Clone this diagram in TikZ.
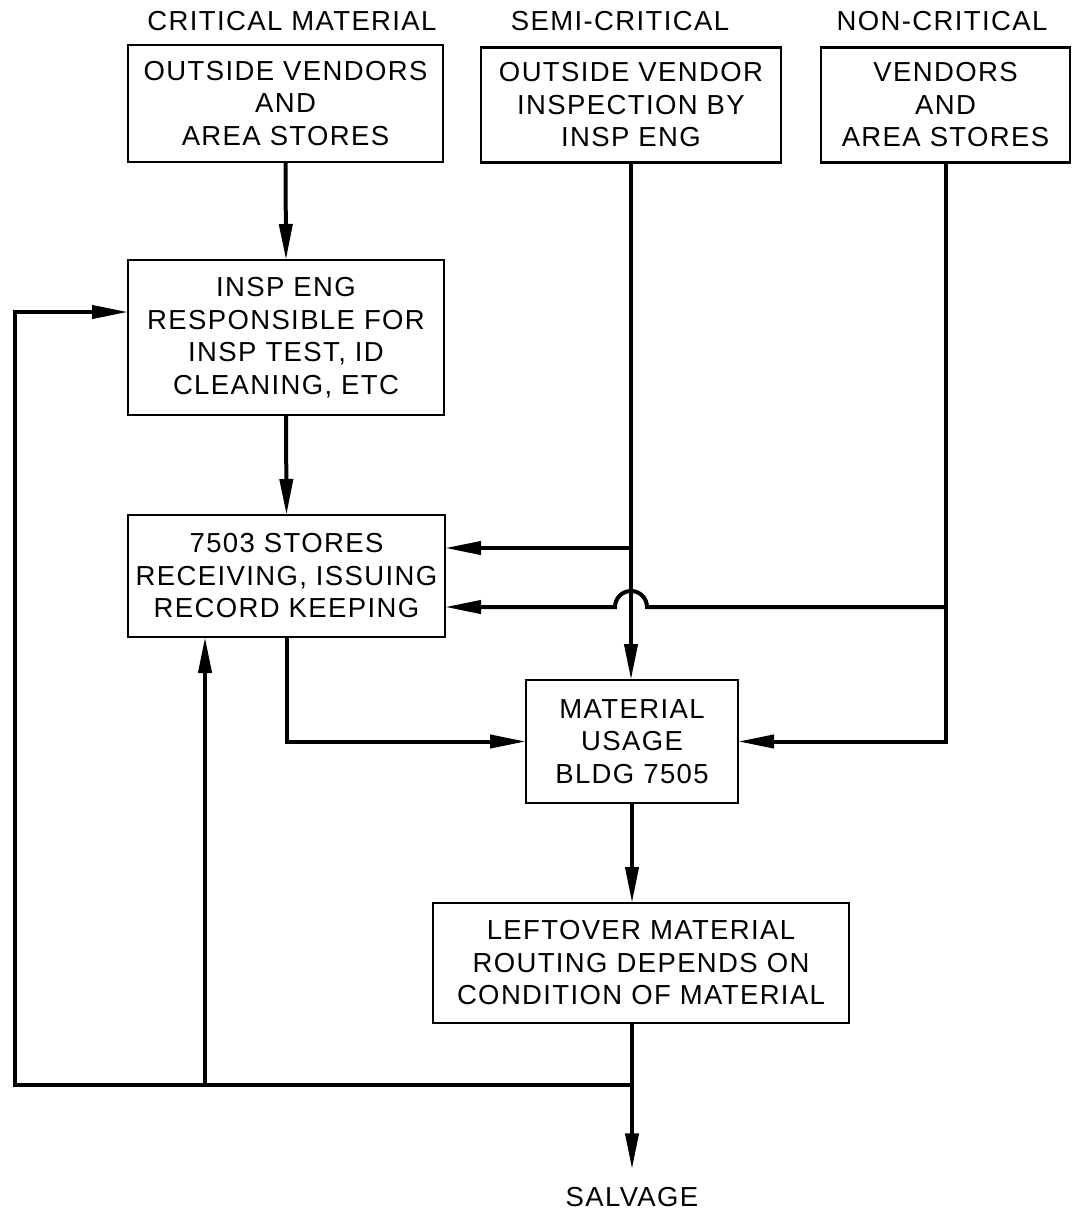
\documentclass[tikz,border=0pt]{standalone}
\usepackage{fontspec}
\setmainfont{Liberation Sans}[LetterSpace=5]
\usetikzlibrary{arrows.meta,calc}
\tikzset{
  box/.style={draw, line width=2.6pt, inner sep=0pt, outer sep=0pt, align=center,
    font=\fontsize{27.5}{32.5}\selectfont},
  ttl/.style={inner sep=0pt, outer sep=0pt, font=\fontsize{27.5}{32}\selectfont},
  conn/.style={line width=4pt, -{Triangle[length=36pt,width=13pt]}},
  plain/.style={line width=4pt}
}
\begin{document}
\begin{tikzpicture}[x=1pt,y=-1pt]
\useasboundingbox (0,0) rectangle (1075,1213);
% titles
\node[ttl] (t1) at (292,21) {CRITICAL MATERIAL};
\node[ttl] (t2) at (620,21) {SEMI-CRITICAL};
\node[ttl] (t3) at (942,21) {NON-CRITICAL};
% boxes
\node[box, minimum width=315pt, minimum height=117pt] (b1) at (285.5,103.5)
  {OUTSIDE VENDORS\\AND\\AREA STORES};
\node[box, minimum width=300pt, minimum height=115pt] (b2) at (631,105)
  {OUTSIDE VENDOR\\INSPECTION BY\\INSP ENG};
\node[box, minimum width=249pt, minimum height=115pt] (b3) at (945.5,105)
  {VENDORS\\AND\\AREA STORES};
\node[box, minimum width=316pt, minimum height=155pt] (b4) at (286,337.5)
  {INSP ENG\\RESPONSIBLE FOR\\INSP TEST, ID\\CLEANING, ETC};
\node[box, minimum width=317pt, minimum height=122pt] (b5) at (286.5,576)
  {7503 STORES\\RECEIVING, ISSUING\\RECORD KEEPING};
\node[box, minimum width=212pt, minimum height=123pt] (b6) at (632,741.5)
  {MATERIAL\\USAGE\\BLDG 7505};
\node[box, minimum width=416pt, minimum height=120pt] (b7) at (641,963)
  {LEFTOVER MATERIAL\\ROUTING DEPENDS ON\\CONDITION OF MATERIAL};
\node[ttl] (salv) at (632,1197) {SALVAGE};
% junction coordinates
\coordinate (j2) at (631,548);
\coordinate (j3) at (945,607);
\coordinate (jb) at (632,1085);
\coordinate (jx) at (205,1085);
\coordinate (fl) at (15,1085);
\coordinate (fu) at (15,312);
% connectors
\draw[conn] (b1.south) -- (b4.north);
\draw[conn] (b4.south) -- (b5.north);
\draw[conn] (b2.south) -- (b2.south |- b6.north);
\draw[conn] (j2) -- (j2 -| b5.east);
\draw[conn] (b3.south) -- (b3.south |- b6.east) -- (b6.east);
\draw[conn] (j3) -- (647,607) arc[start angle=0, end angle=-180, radius=16] -- (j3 -| b5.east);
\draw[conn] (b5.south) -- (b5.south |- b6.west) -- (b6.west);
\draw[conn] (b6.south) -- (b6.south |- b7.north);
\draw[conn, shorten >=18pt] (b6.south |- b7.south) -- (salv.north);
\draw[conn] (jb) -- (fl) -- (fu) -- (fu -| b4.west);
\draw[conn] (jx) -- (jx |- b5.south);
\end{tikzpicture}
\end{document}
